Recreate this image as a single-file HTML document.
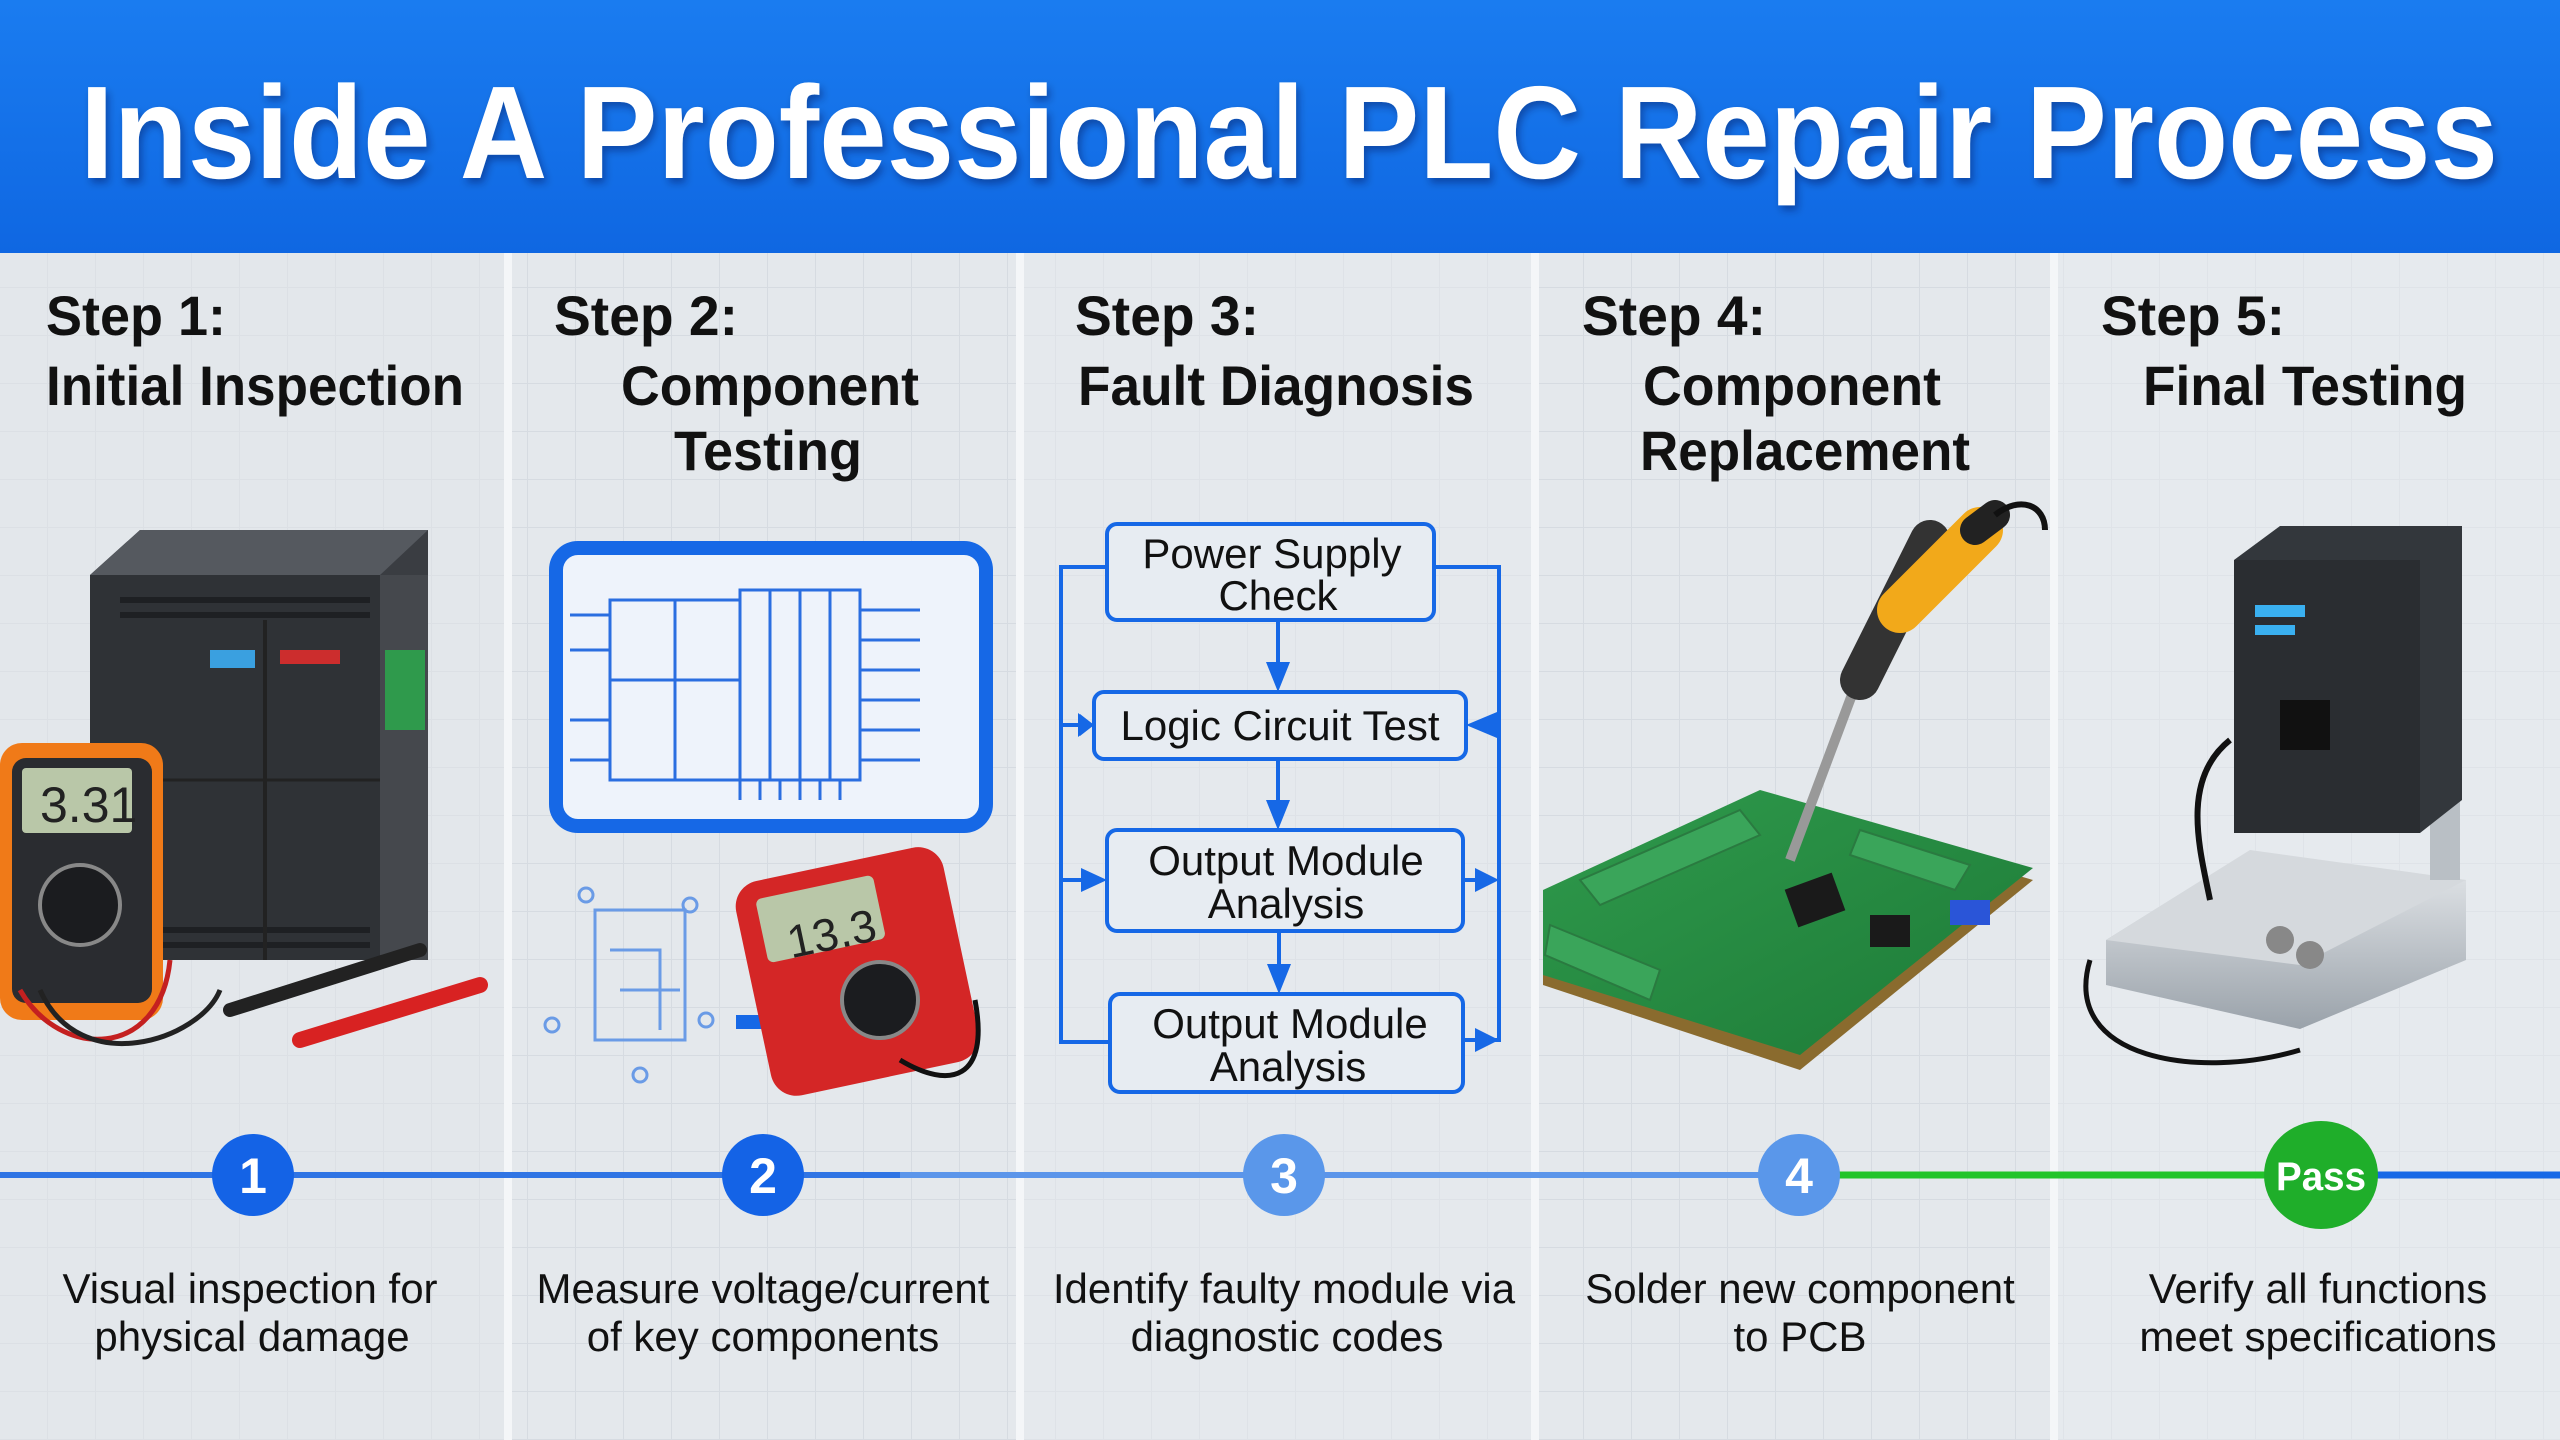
<!DOCTYPE html>
<html><head><meta charset="utf-8"><style>
html,body{margin:0;padding:0;width:2560px;height:1440px;overflow:hidden;background:#e4e8ec}
svg{display:block}
text{font-family:"Liberation Sans",sans-serif}
</style></head><body>
<svg width="2560" height="1440" viewBox="0 0 2560 1440" xmlns="http://www.w3.org/2000/svg">
<defs>
<pattern id="grid" width="48" height="48" patternUnits="userSpaceOnUse">
<path d="M48 0V48M0 48H48" stroke="#d6dbe1" stroke-width="2" fill="none"/>
</pattern>
<linearGradient id="hdr" x1="0" y1="0" x2="0" y2="1"><stop offset="0" stop-color="#1a7cf0"/><stop offset="1" stop-color="#0f67e2"/></linearGradient>
<linearGradient id="pcb" x1="0" y1="0" x2="1" y2="1"><stop offset="0" stop-color="#2f9a4c"/><stop offset="1" stop-color="#1d7a37"/></linearGradient>
<linearGradient id="silver" x1="0" y1="0" x2="0" y2="1"><stop offset="0" stop-color="#e8ebee"/><stop offset="1" stop-color="#9aa2aa"/></linearGradient>
<filter id="sh"><feDropShadow dx="3" dy="5" stdDeviation="4" flood-color="#003" flood-opacity="0.35"/></filter>
</defs>
<rect width="2560" height="1440" fill="#e4e8ec"/>
<rect y="253" width="2560" height="1187" fill="url(#grid)"/>
<rect x="0" y="253" width="506" height="1187" fill="#e2e6ea" opacity="0.5"/>
<rect x="1020" y="253" width="515" height="1187" fill="#e6eaee" opacity="0.5"/>
<rect x="2054" y="253" width="506" height="1187" fill="#e8ecef" opacity="0.5"/>
<g stroke="#f4f6f8" stroke-width="8"><line x1="508" y1="253" x2="508" y2="1440"/><line x1="1020" y1="253" x2="1020" y2="1440"/><line x1="1535" y1="253" x2="1535" y2="1440"/><line x1="2054" y1="253" x2="2054" y2="1440"/></g>
<rect width="2560" height="253" fill="url(#hdr)"/>
<text x="80" y="178" font-size="132" font-weight="bold" fill="#fff" textLength="2418" lengthAdjust="spacingAndGlyphs" filter="url(#sh)">Inside A Professional PLC Repair Process</text>

<g font-size="56" font-weight="bold" fill="#111">
<text x="46" y="335" textLength="180" lengthAdjust="spacingAndGlyphs">Step 1:</text>
<text x="46" y="405" textLength="418" lengthAdjust="spacingAndGlyphs">Initial Inspection</text>
<text x="554" y="335" textLength="184" lengthAdjust="spacingAndGlyphs">Step 2:</text>
<text x="621" y="405" textLength="298" lengthAdjust="spacingAndGlyphs">Component</text>
<text x="674" y="470" textLength="188" lengthAdjust="spacingAndGlyphs">Testing</text>
<text x="1075" y="335" textLength="184" lengthAdjust="spacingAndGlyphs">Step 3:</text>
<text x="1078" y="405" textLength="396" lengthAdjust="spacingAndGlyphs">Fault Diagnosis</text>
<text x="1582" y="335" textLength="184" lengthAdjust="spacingAndGlyphs">Step 4:</text>
<text x="1643" y="405" textLength="298" lengthAdjust="spacingAndGlyphs">Component</text>
<text x="1640" y="470" textLength="330" lengthAdjust="spacingAndGlyphs">Replacement</text>
<text x="2101" y="335" textLength="184" lengthAdjust="spacingAndGlyphs">Step 5:</text>
<text x="2143" y="405" textLength="324" lengthAdjust="spacingAndGlyphs">Final Testing</text>
</g>

<!-- Step1 PLC -->
<g>
<polygon points="90,575 140,530 428,530 428,960 90,960" fill="#3a3d42"/>
<polygon points="90,575 140,530 428,530 380,575" fill="#55595f"/>
<rect x="90" y="575" width="290" height="385" fill="#2f3236"/>
<rect x="380" y="575" width="48" height="385" fill="#45484d"/>
<g stroke="#1e2023" stroke-width="6"><line x1="120" y1="600" x2="370" y2="600"/><line x1="120" y1="615" x2="370" y2="615"/><line x1="120" y1="930" x2="370" y2="930"/><line x1="120" y1="945" x2="370" y2="945"/></g>
<rect x="210" y="650" width="45" height="18" fill="#3aa0e0"/>
<rect x="280" y="650" width="60" height="14" fill="#cc2d2d"/>
<rect x="385" y="650" width="40" height="80" fill="#2f9a4c"/>
<line x1="265" y1="620" x2="265" y2="960" stroke="#222" stroke-width="4"/>
<line x1="90" y1="780" x2="380" y2="780" stroke="#222" stroke-width="3"/>
</g>
<rect x="0" y="743" width="163" height="277" rx="22" fill="#f07a18"/>
<rect x="12" y="758" width="140" height="245" rx="14" fill="#2a2c30"/>
<rect x="22" y="768" width="110" height="65" rx="4" fill="#b9c7a8"/>
<text x="40" y="822" font-size="50" fill="#222">3.31</text>
<circle cx="80" cy="905" r="40" fill="#1b1c1f" stroke="#888" stroke-width="4"/>
<path d="M20 990 C60 1060,160 1060,170 960" stroke="#c42020" stroke-width="5" fill="none"/>
<path d="M40 990 C80 1080,200 1040,220 990" stroke="#222" stroke-width="5" fill="none"/>
<line x1="230" y1="1010" x2="420" y2="950" stroke="#222" stroke-width="14" stroke-linecap="round"/>
<line x1="300" y1="1040" x2="480" y2="985" stroke="#d82222" stroke-width="16" stroke-linecap="round"/>

<!-- Step2 schematic -->
<rect x="556" y="548" width="430" height="278" rx="22" fill="#eef3fb" stroke="#1668e6" stroke-width="14"/>
<g stroke="#2a6ee0" stroke-width="3" fill="none">
<rect x="610" y="600" width="130" height="180"/><line x1="675" y1="600" x2="675" y2="780"/><line x1="610" y1="680" x2="740" y2="680"/>
<rect x="740" y="590" width="120" height="190"/><line x1="770" y1="590" x2="770" y2="780"/><line x1="800" y1="590" x2="800" y2="780"/><line x1="830" y1="590" x2="830" y2="780"/>
<path d="M860 610H920M860 640H920M860 670H920M860 700H920M860 730H920M860 760H920"/>
<path d="M740 780V800M760 780V800M780 780V800M800 780V800M820 780V800M840 780V800"/>
<path d="M570 615H610M570 650H610M570 720H610M570 760H610"/>
</g>
<g stroke="#6a9be6" stroke-width="3" fill="none">
<circle cx="586" cy="895" r="7"/><circle cx="690" cy="905" r="7"/><circle cx="552" cy="1025" r="7"/><circle cx="706" cy="1020" r="7"/><circle cx="640" cy="1075" r="7"/>
<rect x="595" y="910" width="90" height="130"/><path d="M610 950H660V1030M620 990H680"/>
</g>
<rect x="736" y="1015" width="30" height="14" fill="#1668e6"/>
<rect x="751" y="862" width="212" height="219" rx="26" fill="#d42626" transform="rotate(-12 857 970)"/>
<rect x="772" y="880" width="120" height="65" rx="6" fill="#b9c7a8" transform="rotate(-12 857 970)"/>
<text x="795" y="945" font-size="46" fill="#222" transform="rotate(-12 857 970)">13.3</text>
<circle cx="880" cy="1000" r="38" fill="#1b1c1f" stroke="#888" stroke-width="4"/>
<path d="M900 1060 C950 1090,990 1080,975 1000" stroke="#111" stroke-width="5" fill="none"/>

<!-- Step3 flowchart -->
<g stroke="#1668e6" stroke-width="4" fill="#e7ecf2">
<rect x="1107" y="524" width="327" height="96" rx="10"/>
<rect x="1094" y="692" width="372" height="67" rx="10"/>
<rect x="1107" y="830" width="356" height="101" rx="10"/>
<rect x="1110" y="994" width="353" height="98" rx="10"/>
<polyline fill="none" points="1107,567 1061,567 1061,1042 1110,1042"/>
<polyline fill="none" points="1434,567 1499,567 1499,1040 1463,1040"/>
<line x1="1061" y1="725" x2="1080" y2="725"/><line x1="1061" y1="880" x2="1090" y2="880"/>
<line x1="1463" y1="880" x2="1485" y2="880"/>
<line x1="1278" y1="620" x2="1278" y2="672"/><line x1="1278" y1="759" x2="1278" y2="812"/><line x1="1279" y1="931" x2="1279" y2="976"/>
</g>
<g fill="#1668e6">
<polygon points="1266,662 1290,662 1278,692"/><polygon points="1266,800 1290,800 1278,830"/><polygon points="1267,964 1291,964 1279,994"/>
<polygon points="1080,714 1094,725 1080,736 1080,714" /><polygon points="1078,713 1094,725 1078,737"/>
<polygon points="1081,868 1107,880 1081,892"/>
<polygon points="1497,712 1466,725 1497,738"/>
<polygon points="1475,868 1499,880 1475,892"/>
<polygon points="1475,1028 1499,1040 1475,1052"/>
</g>
<g font-size="42" fill="#111" text-anchor="middle">
<text x="1272" y="568">Power Supply</text><text x="1278" y="610">Check</text>
<text x="1280" y="740">Logic Circuit Test</text>
<text x="1286" y="875">Output Module</text><text x="1286" y="918">Analysis</text>
<text x="1290" y="1038">Output Module</text><text x="1288" y="1081">Analysis</text>
</g>

<!-- Step4 PCB -->
<polygon points="1543,900 1760,800 2033,880 1800,1070 1543,985" fill="#8a6b2e"/>
<polygon points="1543,890 1760,790 2033,868 1800,1055 1543,975" fill="url(#pcb)"/>
<g fill="#3aa55a" stroke="#2a7a40" stroke-width="2">
<polygon points="1580,880 1740,810 1760,835 1600,905"/><polygon points="1550,925 1660,970 1650,1000 1545,955"/>
<polygon points="1860,830 1970,865 1955,890 1850,855"/>
</g>
<rect x="1790" y="880" width="50" height="40" fill="#1a1a1a" transform="rotate(-20 1815 900)"/>
<rect x="1870" y="915" width="40" height="32" fill="#1a1a1a"/>
<rect x="1950" y="900" width="40" height="25" fill="#2a55d8"/>
<line x1="1790" y1="860" x2="1880" y2="620" stroke="#999" stroke-width="10"/>
<line x1="1860" y1="680" x2="1930" y2="540" stroke="#333" stroke-width="40" stroke-linecap="round"/>
<line x1="1900" y1="610" x2="1980" y2="530" stroke="#f2a91a" stroke-width="46" stroke-linecap="round"/>
<line x1="1975" y1="530" x2="1995" y2="515" stroke="#222" stroke-width="30" stroke-linecap="round"/>
<path d="M1995 515 C2020 495,2045 505,2045 530" stroke="#111" stroke-width="6" fill="none"/>

<!-- Step5 tester -->
<path d="M2090 960 C2060 1060,2200 1080,2300 1050" stroke="#111" stroke-width="5" fill="none"/>
<polygon points="2106,940 2250,850 2466,880 2466,960 2300,1029 2106,985" fill="url(#silver)"/>
<polygon points="2106,940 2250,850 2466,880 2300,965" fill="#d5d9dd"/>
<circle cx="2280" cy="940" r="14" fill="#888"/><circle cx="2310" cy="955" r="14" fill="#888"/>
<rect x="2430" y="690" width="30" height="190" fill="#b9bfc5"/>
<polygon points="2234,560 2280,526 2462,526 2462,800 2420,833 2234,833" fill="#33373c"/>
<rect x="2234" y="560" width="186" height="273" fill="#2a2d31"/>
<rect x="2255" y="605" width="50" height="12" fill="#3ab0f0"/><rect x="2255" y="625" width="40" height="10" fill="#3ab0f0"/>
<rect x="2280" y="700" width="50" height="50" fill="#111"/>
<path d="M2230 740 C2180 780,2200 850,2210 900" stroke="#111" stroke-width="6" fill="none"/>

<!-- Timeline -->
<line x1="0" y1="1175" x2="1799" y2="1175" stroke="#5b95ea" stroke-width="6"/>
<line x1="0" y1="1175" x2="900" y2="1175" stroke="#2f74e4" stroke-width="6"/>
<line x1="1799" y1="1175" x2="2320" y2="1175" stroke="#22c42a" stroke-width="7"/>
<line x1="2320" y1="1175" x2="2560" y2="1175" stroke="#1668e6" stroke-width="7"/>
<g font-weight="bold" fill="#fff" text-anchor="middle" font-size="50">
<circle cx="253" cy="1175" r="41" fill="#1463e6"/><text x="253" y="1193">1</text>
<circle cx="763" cy="1175" r="41" fill="#1463e6"/><text x="763" y="1193">2</text>
<circle cx="1284" cy="1175" r="41" fill="#5a97ea"/><text x="1284" y="1193">3</text>
<circle cx="1799" cy="1175" r="41" fill="#5a97ea"/><text x="1799" y="1193">4</text>
<ellipse cx="2321" cy="1175" rx="57" ry="54" fill="#1fae2a"/><text x="2321" y="1190" font-size="40" textLength="90" lengthAdjust="spacingAndGlyphs">Pass</text>
</g>
<g font-size="42" fill="#111" text-anchor="middle">
<text x="250" y="1303">Visual inspection for</text><text x="252" y="1351">physical damage</text>
<text x="763" y="1303">Measure voltage/current</text><text x="763" y="1351">of key components</text>
<text x="1284" y="1303">Identify faulty module via</text><text x="1287" y="1351">diagnostic codes</text>
<text x="1800" y="1303">Solder new component</text><text x="1800" y="1351">to PCB</text>
<text x="2318" y="1303">Verify all functions</text><text x="2318" y="1351">meet specifications</text>
</g>
</svg>
</body></html>
